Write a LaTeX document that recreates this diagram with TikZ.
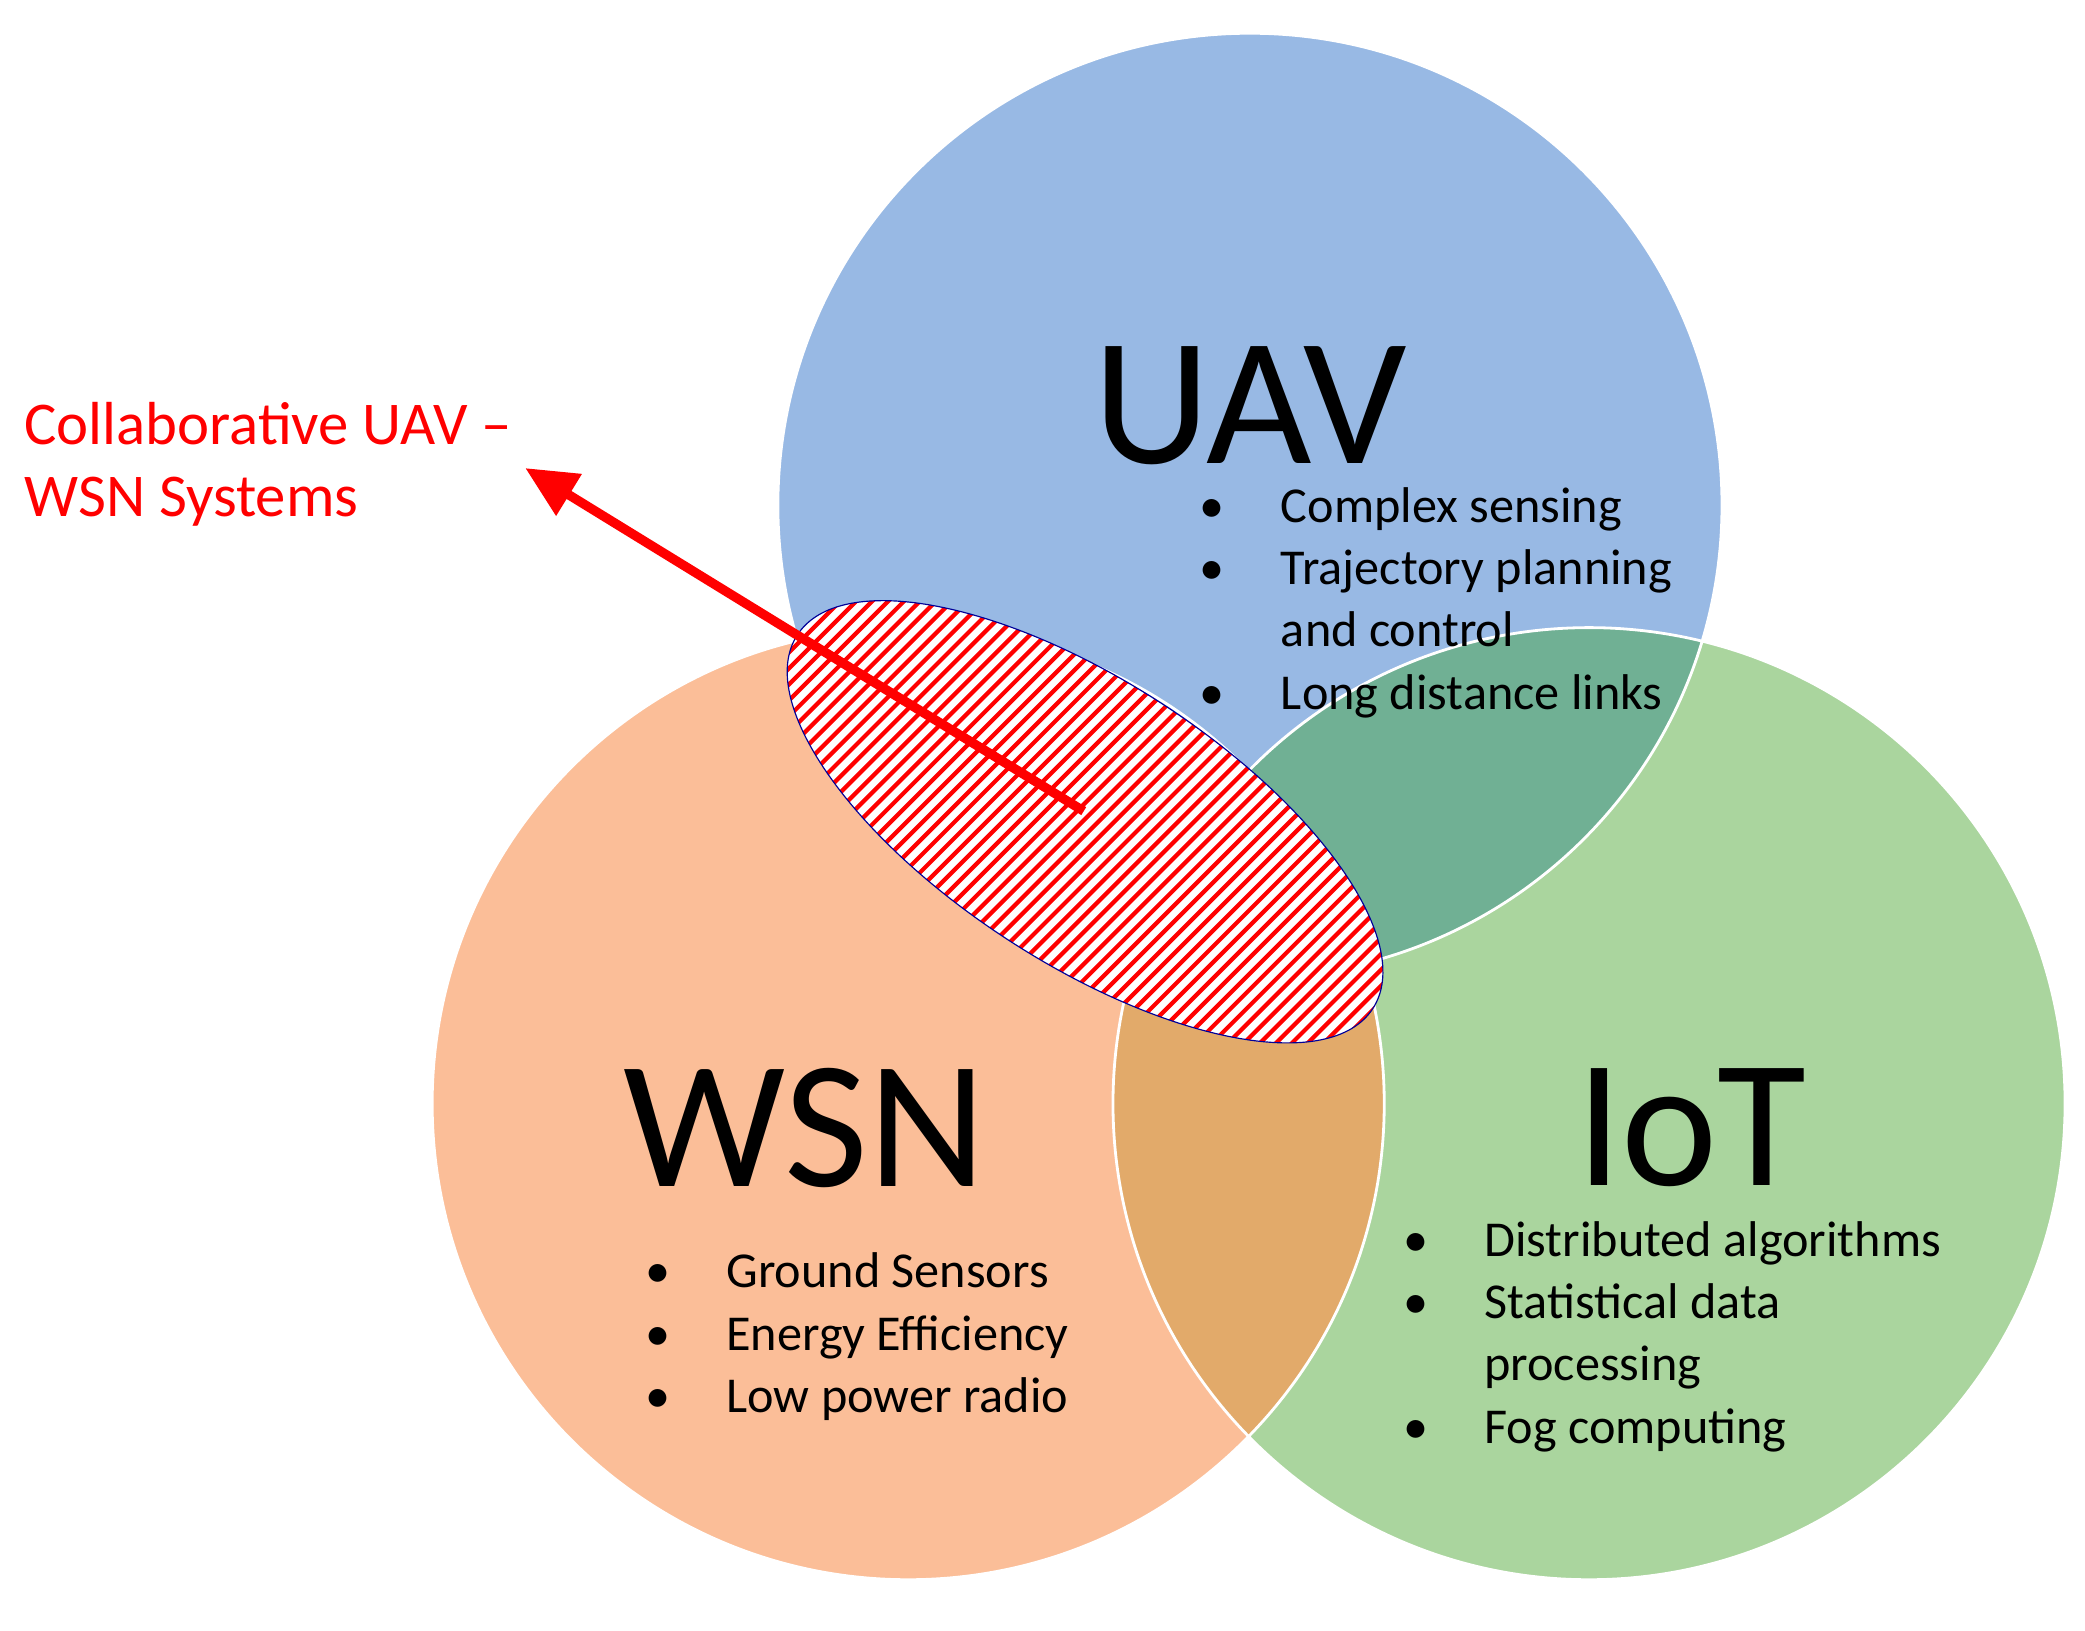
\documentclass[tikz,border=0pt]{standalone}
\usepackage{fontspec}
\setmainfont{Carlito}
\usetikzlibrary{arrows.meta}
\begin{document}
\begin{tikzpicture}[x=0.02cm,y=-0.02cm,
  circ/.style={draw=white,line width=1.2pt},
  big/.style={font=\fontsize{78}{80}\selectfont,inner sep=0},
  lst/.style={font=\fontsize{21.5}{26.7}\selectfont,align=left,anchor=north west,inner sep=0}]
\useasboundingbox (0,0) rectangle (1568,1226);
\definecolor{cu}{RGB}{152,185,228}
\definecolor{cw}{RGB}{251,190,152}
\definecolor{ci}{RGB}{170,213,158}
\definecolor{cui}{RGB}{112,176,148}
\definecolor{cwi}{RGB}{226,170,106}
\coordinate (U) at (940,380);
\coordinate (W) at (683,830);
\coordinate (I) at (1195,830);
\fill[cu] (U) circle (355);
\fill[cw] (W) circle (358);
\fill[ci] (I) circle (358);
\begin{scope}\clip (U) circle (355); \fill[cui] (I) circle (358);\end{scope}
\begin{scope}\clip (W) circle (358); \fill[cwi] (I) circle (358);\end{scope}
\begin{scope}\clip (U) circle (355); \clip (W) circle (358); \fill[cu] (U) circle (355);\end{scope}
\draw[circ] (U) circle (355) (W) circle (358) (I) circle (358);
% hatched ellipse
\coordinate (E) at (816,618);
\begin{scope}
\clip[rotate around={-33:(E)}] (E) ellipse (258 and 106);
\fill[white] (500,400) rectangle (1100,850);
\foreach \k in {0,...,130} {
  \draw[red,line width=1.8pt] (0+\k*12,1000) -- ++(700,-700);
}
\end{scope}
\draw[blue!60!black,line width=0.5pt,rotate around={-33:(E)}] (E) ellipse (258 and 106);
% labels
\node[big] (uav) at (940,305) {UAV};
\node[big] (wsn) at (605,848) {WSN};
\node[big] (iot) at (1272,848) {IoT};
\node[lst] (ul) at (902,366) {\textbullet\hspace{24pt}Complex sensing\\\textbullet\hspace{24pt}Trajectory planning\\\hphantom{\textbullet}\hspace{24pt}and control\\\textbullet\hspace{24pt}Long distance links};
\node[lst] (wl) at (485,942) {\textbullet\hspace{24pt}Ground Sensors\\\textbullet\hspace{24pt}Energy Efficiency\\\textbullet\hspace{24pt}Low power radio};
\node[lst] (il) at (1055,918) {\textbullet\hspace{24pt}Distributed algorithms\\\textbullet\hspace{24pt}Statistical data\\\hphantom{\textbullet}\hspace{24pt}processing\\\textbullet\hspace{24pt}Fog computing};
\node[lst,text=red,font=\fontsize{26}{31}\selectfont] (col) at (18,302) {Collaborative UAV --\\WSN Systems};
\coordinate (a0) at (815,610);
\coordinate (a1) at (395,352);
\draw[red,line width=4pt,-{Triangle[length=22pt,width=20pt]}] (a0) -- (a1);
\end{tikzpicture}
\end{document}
